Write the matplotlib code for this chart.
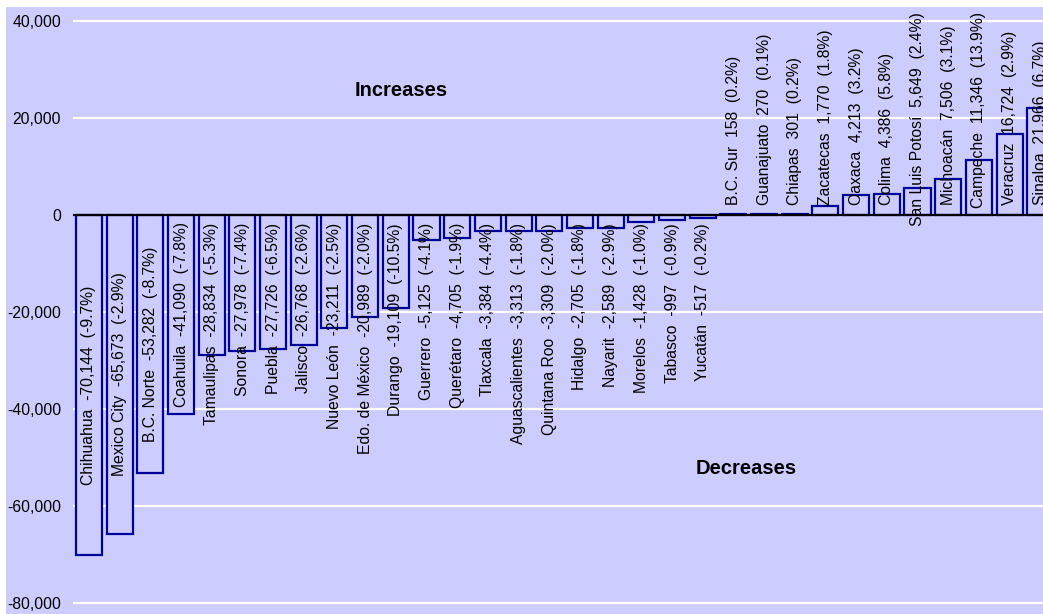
import numpy as np
import matplotlib
matplotlib.use('Agg')
import matplotlib.pyplot as plt
from matplotlib.patches import Rectangle
from matplotlib.ticker import FuncFormatter

plt.rcParams['font.family'] = ['Liberation Sans', 'DejaVu Sans']

estados = ['Chihuahua', 'Mexico City', 'B.C. Norte', 'Coahuila', 'Tamaulipas',
           'Sonora', 'Puebla', 'Jalisco', 'Nuevo León', 'Edo. de México',
           'Durango', 'Guerrero', 'Querétaro', 'Tlaxcala', 'Aguascalientes',
           'Quintana Roo', 'Hidalgo', 'Nayarit', 'Morelos', 'Tabasco', 'Yucatán',
           'B.C. Sur', 'Guanajuato', 'Chiapas', 'Zacatecas', 'Oaxaca', 'Colima',
           'San Luis Potosí', 'Michoacán', 'Campeche', 'Veracruz', 'Sinaloa']
cambio = [-70144, -65673, -53282, -41090, -28834, -27978, -27726, -26768,
          -23211, -20989, -19109, -5125, -4705, -3384, -3313, -3309, -2705,
          -2589, -1428, -997, -517, 158, 270, 301, 1770, 4213, 4386, 5649,
          7506, 11346, 16724, 21966]
porcentaje = [-9.7, -2.9, -8.7, -7.8, -5.3, -7.4, -6.5, -2.6, -2.5, -2.0,
              -10.5, -4.1, -1.9, -4.4, -1.8, -2.0, -1.8, -2.9, -1.0, -0.9,
              -0.2, 0.2, 0.1, 0.2, 1.8, 3.2, 5.8, 2.4, 3.1, 13.9, 2.9, 6.7]

fondo = '#CCCCFF'
borde = '#000099'
W, H = 1043, 614

fig = plt.figure(figsize=(W / 100, H / 100), dpi=100, facecolor='white')
fig.patches.append(Rectangle((6 / W, 0), 1, (H - 7) / H, transform=fig.transFigure,
                             facecolor=fondo, edgecolor='none', zorder=-10))
ax = fig.add_axes([73 / W, 8 / H, 970 / W, 588 / H])
ax.set_facecolor(fondo)

x = np.arange(len(estados))
ax.bar(x, cambio, width=0.85, color=fondo, edgecolor=borde, linewidth=1.6, zorder=2)
ax.axhline(0, color='black', linewidth=1.6, zorder=3)

ax.set_xlim(-0.52, 31.09)
ax.set_ylim(-80619, 40619)
ax.set_yticks(np.arange(-80000, 40001, 20000))
ax.yaxis.set_major_formatter(FuncFormatter(lambda v, p: f'{v:,.0f}'))
ax.tick_params(axis='y', length=0, pad=8.6, labelsize=11.3)
ax.set_xticks([])
ax.grid(axis='y', color='white', linewidth=1.6, zorder=0)
ax.set_axisbelow(True)
for s in ax.spines.values():
    s.set_visible(False)

# etiquetas dentro de las barras
fig.canvas.draw()
r = fig.canvas.get_renderer()
for i, (e, v, p) in enumerate(zip(estados, cambio, porcentaje)):
    txt = f'{e}  {v:,}  ({p:.1f}%)'
    t = ax.text(i, v / 2, txt, rotation=90, ha='center', va='center',
                fontsize=11.3, zorder=4)
    largo = t.get_window_extent(r).height
    y0 = ax.transData.transform((i, 0))[1]
    y1 = ax.transData.transform((i, v))[1]
    if largo > abs(y1 - y0) - 4:
        if v < 0:
            t.remove()
            t = ax.annotate(txt, (i, 0), xytext=(0, -8 * 0.72), textcoords='offset points',
                            rotation=90, ha='center', va='top', fontsize=11.3, zorder=4)
        else:
            t.remove()
            tope = H - 12
            dy = 10
            if y0 + dy + largo > tope:
                dy = tope - largo - y0
            t = ax.annotate(txt, (i, 0), xytext=(0, dy * 0.72), textcoords='offset points',
                            rotation=90, ha='center', va='bottom', fontsize=11.3, zorder=4)
        t.set_annotation_clip(False)

fig.text(401 / W, 1 - 90 / H, 'Increases', fontsize=14.5, fontweight='bold',
         ha='center', va='center')
fig.text(746 / W, 1 - 468 / H, 'Decreases', fontsize=14.5, fontweight='bold',
         ha='center', va='center')

fig.savefig('out.png', dpi=100)
